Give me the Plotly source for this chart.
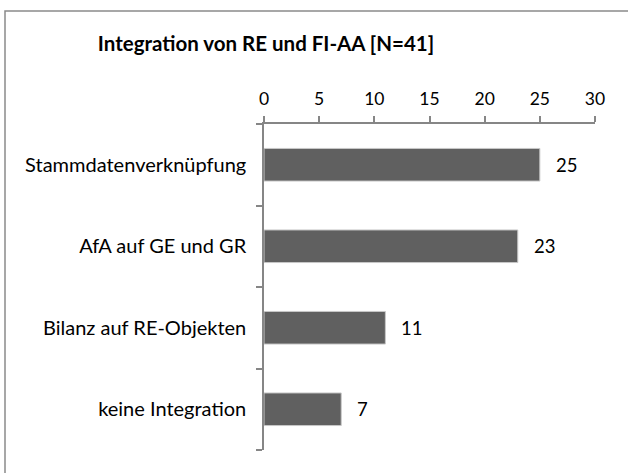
import plotly.graph_objects as go

# data
categories = ["keine Integration", "Bilanz auf RE-Objekten", "AfA auf GE und GR", "Stammdatenverknüpfung"]
counts = [7, 11, 23, 25]
tick_vals = [0, 5, 10, 15, 20, 25, 30]

W, H = 628, 473
left, right, top, bottom = 264, 33, 124, 23
pw, ph = W - left - right, H - top - bottom

axis_col = "#868686"
font_fam = "Lato, 'Open Sans', sans-serif"

fig = go.Figure()
fig.add_trace(go.Bar(
    y=categories, x=counts, orientation="h",
    marker=dict(color="#606060", line=dict(color="#c8c8c8", width=1)),
    hoverinfo="skip",
))

# value labels right of the bars
for c, v in zip(categories, counts):
    fig.add_annotation(x=v, y=c, text=str(v), showarrow=False,
                       xanchor="left", xshift=14,
                       font=dict(size=18.5, color="#000000", family=font_fam))

fig.update_layout(
    width=W, height=H,
    margin=dict(l=left, r=right, t=top, b=bottom, pad=0),
    paper_bgcolor="white", plot_bgcolor="white",
    showlegend=False, bargap=0.6,
    font=dict(family=font_fam, size=15, color="#000000"),
    title=dict(text="<b>Integration von RE und FI-AA [N=41]</b>",
               x=266 / W, xanchor="center", y=1 - 44 / H, yanchor="middle",
               font=dict(size=20.5, family=font_fam, color="#000000")),
)
fig.update_xaxes(
    range=[0, 30], side="top", tickvals=tick_vals,
    showgrid=False, zeroline=False,
    showline=True, linecolor=axis_col, linewidth=1.5,
    ticks="outside", ticklen=6, tickcolor=axis_col, tickwidth=1.5,
    tickfont=dict(size=17.5), ticklabelstandoff=4,
)
fig.update_yaxes(
    showgrid=False, zeroline=False, tickson="boundaries",
    showline=True, linecolor=axis_col, linewidth=1.5,
    ticks="outside", ticklen=6, tickcolor=axis_col, tickwidth=1.5,
    tickfont=dict(size=20), ticklabelstandoff=12,
)

# chart area border (only top and left edges are visible in the crop)
fig.add_shape(type="rect", xref="paper", yref="paper",
              x0=(5 - left) / pw, x1=2.0, y0=-1.0, y1=(H - bottom - 11) / ph,
              line=dict(color="#8a8a8a", width=1.5), fillcolor="rgba(0,0,0,0)", layer="below")

fig.write_html("out.html", config={"displayModeBar": False},
               post_script="document.body.style.margin='0';")
